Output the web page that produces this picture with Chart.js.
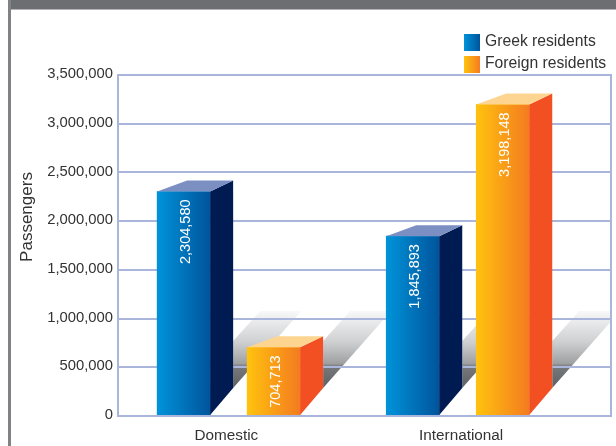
<!DOCTYPE html>
<html>
<head>
<meta charset="utf-8">
<title>Passengers</title>
<script src="https://cdn.jsdelivr.net/npm/chart.js@4/dist/chart.umd.min.js"></script>
<style>
    html, body { margin: 0; padding: 0; background: #fff; overflow: hidden; }
    #wrap { position: relative; width: 616px; height: 446px; }
    #topBand { position: absolute; left: 8px; right: 0; top: 0; height: 9px; background: #6d6e71; border-bottom: 1px solid #b4b5b8; }
    #leftBand { position: absolute; left: 8px; top: 0; bottom: 0; width: 3px; background: #808285; }
    canvas { position: absolute; left: 0; top: 0; }
</style>
</head>
<body>
<div id="wrap">
    <div id="topBand"></div>
    <div id="leftBand"></div>
    <canvas id="passengerChart" width="616" height="446"></canvas>
</div>
<script>
const categories = ["Domestic", "International"];
const seriesNames = ["Greek residents", "Foreign residents"];
const greekResidents = [2304580, 1845893];
const foreignResidents = [704713, 3198148];
const axisTitle = "Passengers";

const gridColor = "#aab5dc";
const textColor = "#333335";
const fontFamily = "'Liberation Sans', Arial, sans-serif";

// colours of each box: front gradient, side and top face
const faces = [
    {from: "#0093d9", to: "#00549c", side: "#001a52", top: "#7b8fc3"},
    {from: "#ffc20e", to: "#f47b20", side: "#f25022", top: "#fdd590"}
];

function faceGradient(ctx, left, right, face) {
    const g = ctx.createLinearGradient(left, 0, right, 0);
    g.addColorStop(0, face.from);
    g.addColorStop(1, face.to);
    return g;
}

function polygon(ctx, pts, fill) {
    ctx.beginPath();
    ctx.moveTo(pts[0][0], pts[0][1]);
    for (let i = 1; i < pts.length; i++) {
        ctx.lineTo(pts[i][0], pts[i][1]);
    }
    ctx.closePath();
    ctx.fillStyle = fill;
    ctx.fill();
}

const boxPlugin = {
    id: "boxes",
    // floor shadows go under the grid
    beforeDraw(chart) {
        const ctx = chart.ctx;
        const area = chart.chartArea;
        ctx.save();
        ctx.beginPath();
        ctx.rect(area.left, area.top, area.right - area.left, area.bottom - area.top);
        ctx.clip();
        chart.data.datasets.forEach((ds, d) => {
            chart.getDatasetMeta(d).data.forEach(bar => {
                const right = bar.x + bar.width / 2 + 23;
                const low = bar.base - 27;
                const high = bar.base - 104;
                const g = ctx.createLinearGradient(0, high, 0, low);
                g.addColorStop(0, "#f8f8f9");
                g.addColorStop(0.4, "#cfd0d2");
                g.addColorStop(0.68, "#9fa0a2");
                g.addColorStop(0.72, "#77787b");
                g.addColorStop(1, "#5f6062");
                polygon(ctx, [[right, low], [right + 68, high], [right + 27, high], [right, low - 47]], g);
            });
        });
        ctx.restore();
    },
    afterDatasetsDraw(chart) {
        const ctx = chart.ctx;
        chart.data.datasets.forEach((ds, d) => {
            const face = faces[d];
            chart.getDatasetMeta(d).data.forEach((bar, i) => {
                const left = bar.x - bar.width / 2;
                const right = bar.x + bar.width / 2;
                polygon(ctx, [[left, bar.base], [left, bar.y], [right, bar.y], [right, bar.base]], faceGradient(ctx, left, right, face));
                polygon(ctx, [[right, bar.base], [right, bar.y], [right + 23, bar.y - 11], [right + 23, bar.base - 27]], face.side);
                polygon(ctx, [[left, bar.y], [left + 30, bar.y - 11], [right + 23, bar.y - 11], [right, bar.y]], face.top);

                // value reads upward from just below the front edge
                ctx.save();
                ctx.translate(bar.x + 2, bar.y + 8);
                ctx.rotate(-Math.PI / 2);
                ctx.font = "14.5px " + fontFamily;
                ctx.fillStyle = "#ffffff";
                ctx.textAlign = "right";
                ctx.textBaseline = "middle";
                ctx.fillText(ds.data[i].y.toLocaleString("en-US"), 0, 0);
                ctx.restore();
            });
        });
    },
    afterDraw(chart) {
        const ctx = chart.ctx;
        const area = chart.chartArea;
        ctx.save();
        ctx.strokeStyle = gridColor;
        ctx.lineWidth = 2;
        ctx.strokeRect(area.left, area.top, area.right - area.left, area.bottom - area.top);

        // legend stacked above the plot
        ctx.font = "15.7px " + fontFamily;
        ctx.textBaseline = "middle";
        ctx.textAlign = "left";
        seriesNames.forEach((name, i) => {
            const top = 34 + i * 22;
            ctx.fillStyle = faceGradient(ctx, 464, 480, faces[i]);
            ctx.fillRect(464, top, 16, 17);
            ctx.fillStyle = textColor;
            ctx.fillText(name, 485, top + 8);
        });

        // axis title sits above the middle of the axis
        ctx.translate(27, 217);
        ctx.rotate(-Math.PI / 2);
        ctx.textAlign = "center";
        ctx.font = "17px " + fontFamily;
        ctx.fillText(axisTitle, 0, 0);
        ctx.restore();
    }
};

new Chart(document.getElementById("passengerChart"), {
    type: "bar",
    data: {
        datasets: [
            {
                label: seriesNames[0],
                data: greekResidents.map((v, i) => ({x: i, y: v})),
                backgroundColor: faces[0].from
            },
            {
                label: seriesNames[1],
                data: foreignResidents.map((v, i) => ({x: i, y: v})),
                backgroundColor: faces[1].from
            }
        ]
    },
    plugins: [boxPlugin],
    options: {
        responsive: false,
        animation: false,
        barThickness: 90,
        maxBarThickness: 53,
        layout: {padding: {top: 75, right: 5}},
        plugins: {
            legend: {display: false},
            tooltip: {enabled: false}
        },
        scales: {
            x: {
                type: "linear",
                offset: false,
                min: -0.483,
                max: 1.669,
                afterFit: function (scale) {
                    scale.height = 30;
                },
                // label anchors sit slightly off the group centres
                afterBuildTicks: function (scale) {
                    scale.ticks = [{value: -0.01}, {value: 1.015}];
                },
                grid: {display: false, drawTicks: false},
                border: {display: false},
                ticks: {
                    autoSkip: false,
                    maxRotation: 0,
                    padding: 11,
                    color: textColor,
                    font: {family: fontFamily, size: 15.3},
                    callback: function (value) {
                        return categories[Math.round(value)];
                    }
                }
            },
            y: {
                min: 0,
                max: 3500000,
                afterFit: function (scale) {
                    scale.width = 118;
                },
                grid: {color: gridColor, lineWidth: 2, drawTicks: false},
                border: {display: false},
                ticks: {
                    stepSize: 500000,
                    padding: 5,
                    labelOffset: -1,
                    color: textColor,
                    font: {family: fontFamily, size: 14.8},
                    callback: function (value) {
                        return value.toLocaleString("en-US");
                    }
                }
            }
        }
    }
});
</script>
</body>
</html>
